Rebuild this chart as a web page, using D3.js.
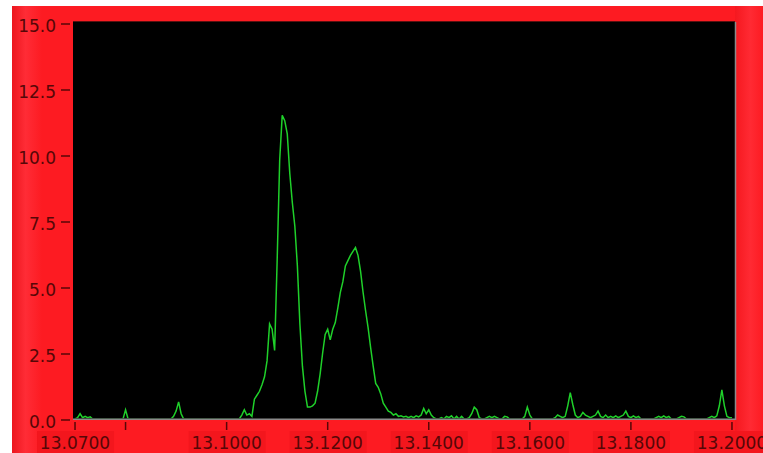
<!DOCTYPE html>
<html>
<meta charset="utf-8">
<head>
	<title>Trace</title>
	<script type="text/javascript" src="https://d3js.org/d3.v7.min.js"></script>
	<style>
		body { margin: 0; background: #ffffff; }
		text { font-family: "DejaVu Sans", Verdana, sans-serif; }
	</style>
</head>
<body>
	<div class="chart-container"></div>
</body>
</html>

<script type="text/javascript">
// signal sampled every 0.0005 starting at 13.0700
var startTime = 13.07;
var stepTime = 0.0005;
var signal = [
	0, 0.05, 0.2, 0.05, 0.1, 0.05, 0.08, 0, 0, 0,
	0, 0, 0, 0, 0, 0, 0, 0, 0, 0,
	0.35, 0, 0, 0, 0, 0, 0, 0, 0, 0,
	0, 0, 0, 0, 0, 0, 0, 0, 0, 0.1,
	0.3, 0.65, 0.2, 0, 0, 0, 0, 0, 0, 0,
	0, 0, 0, 0, 0, 0, 0, 0, 0, 0,
	0, 0, 0, 0, 0, 0, 0.15, 0.35, 0.15, 0.2,
	0.1, 0.75, 0.9, 1.05, 1.3, 1.6, 2.2, 3.6, 3.4, 2.6,
	6.0, 9.8, 11.5, 11.3, 10.8, 9.3, 8.2, 7.3, 5.8, 3.6,
	2.0, 1.05, 0.45, 0.45, 0.5, 0.6, 1.05, 1.7, 2.5, 3.2,
	3.4, 3.0, 3.4, 3.65, 4.2, 4.8, 5.2, 5.8, 6.0, 6.2,
	6.35, 6.5, 6.2, 5.6, 4.8, 4.1, 3.45, 2.7, 2.0, 1.35,
	1.2, 0.95, 0.6, 0.45, 0.3, 0.25, 0.15, 0.2, 0.1, 0.12,
	0.08, 0.1, 0.05, 0.1, 0.05, 0.12, 0.08, 0.15, 0.4, 0.2,
	0.35, 0.15, 0.05, 0, 0, 0.05, 0, 0.1, 0.05, 0.12,
	0, 0.1, 0, 0.1, 0, 0, 0.05, 0.2, 0.45, 0.35,
	0.05, 0, 0, 0.05, 0.1, 0.05, 0.1, 0.05, 0, 0,
	0.1, 0.08, 0, 0, 0, 0, 0, 0, 0.1, 0.45,
	0.15, 0, 0, 0, 0, 0, 0, 0, 0, 0,
	0.05, 0.15, 0.1, 0.05, 0.1, 0.5, 1.0, 0.55, 0.15, 0.05,
	0.1, 0.25, 0.15, 0.1, 0.05, 0.1, 0.15, 0.3, 0.1, 0.05,
	0.15, 0.05, 0.1, 0.05, 0.12, 0.05, 0.1, 0.15, 0.3, 0.1,
	0.05, 0.12, 0.05, 0.1, 0, 0, 0, 0, 0, 0,
	0.05, 0.1, 0.05, 0.12, 0.05, 0.1, 0, 0, 0, 0.05,
	0.1, 0.08, 0, 0, 0, 0, 0, 0, 0, 0,
	0, 0.05, 0.1, 0.05, 0.12, 0.5, 1.1, 0.5, 0.1, 0.05,
	0.05
];
var xTicks = [13.07, 13.08, 13.10, 13.12, 13.14, 13.16, 13.18, 13.20];
var xLabelled = [13.07, 13.10, 13.12, 13.14, 13.16, 13.18, 13.20];
var yTicks = [0, 2.5, 5, 7.5, 10, 12.5, 15];

var width = 763, height = 453;
var plot = {left: 73, right: 735, top: 22, bottom: 420};
var textColor = "#560707";

var svg = d3.select(".chart-container").append("svg")
	.attr("width", width)
	.attr("height", height);

var defs = svg.append("defs");

var sideGrad = defs.append("linearGradient").attr("id", "leftEdge");
sideGrad.append("stop").attr("offset", "0%").attr("stop-color", "#ec161e");
sideGrad.append("stop").attr("offset", "45%").attr("stop-color", "#ff2c36");
sideGrad.append("stop").attr("offset", "100%").attr("stop-color", "#fd1b22");

var rightGrad = defs.append("linearGradient").attr("id", "rightEdge");
rightGrad.append("stop").attr("offset", "0%").attr("stop-color", "#f5181f");
rightGrad.append("stop").attr("offset", "55%").attr("stop-color", "#ff2a33");
rightGrad.append("stop").attr("offset", "100%").attr("stop-color", "#fd1b22");

defs.append("clipPath").attr("id", "plotClip")
	.append("rect")
	.attr("x", plot.left)
	.attr("y", plot.top)
	.attr("width", plot.right - plot.left)
	.attr("height", plot.bottom - plot.top - 1.8);

// red panel
svg.append("rect")
	.attr("x", 12).attr("y", 6)
	.attr("width", width - 12).attr("height", height - 6)
	.attr("fill", "#fd1b22");
svg.append("rect")
	.attr("x", 12).attr("y", 6)
	.attr("width", 30).attr("height", height - 6)
	.attr("fill", "url(#leftEdge)");
svg.append("rect")
	.attr("x", plot.right).attr("y", 6)
	.attr("width", width - plot.right).attr("height", height - 6)
	.attr("fill", "url(#rightEdge)");

var x = d3.scaleLinear()
	.domain([13.0696, 13.2006])
	.range([plot.left, plot.right]);

var y = d3.scaleLinear()
	.domain([0, 15])
	.range([419, 23]);

// plot area
svg.append("rect")
	.attr("x", plot.left).attr("y", plot.top)
	.attr("width", plot.right - plot.left)
	.attr("height", plot.bottom - plot.top)
	.attr("fill", "#000000");

var line = d3.line()
	.x(function(d, i) { return x(startTime + i * stepTime); })
	.y(function(d) { return y(d); });

svg.append("path")
	.datum(signal)
	.attr("clip-path", "url(#plotClip)")
	.attr("fill", "none")
	.attr("stroke", "#1fd02a")
	.attr("stroke-width", 1.5)
	.attr("d", line);

// frame lines of the plot
svg.append("line")
	.attr("x1", plot.left).attr("x2", plot.right)
	.attr("y1", 419.3).attr("y2", 419.3)
	.attr("stroke", "#8a8a8a").attr("stroke-width", 1.5);
svg.append("line")
	.attr("x1", plot.right + 0.5).attr("x2", plot.right + 0.5)
	.attr("y1", plot.top).attr("y2", plot.bottom)
	.attr("stroke", "#8a8a8a").attr("stroke-width", 1.5);
svg.append("line")
	.attr("x1", plot.left).attr("x2", plot.right)
	.attr("y1", plot.top - 0.5).attr("y2", plot.top - 0.5)
	.attr("stroke", "#5a1010").attr("stroke-width", 1);

// y axis
var yAxis = svg.append("g").attr("class", "y-axis");
yAxis.selectAll("line")
	.data(yTicks)
	.enter().append("line")
	.attr("x1", 61).attr("x2", 70)
	.attr("y1", function(d) { return y(d) + 1; })
	.attr("y2", function(d) { return y(d) + 1; })
	.attr("stroke", textColor)
	.attr("stroke-width", 1.5);
yAxis.selectAll("text")
	.data(yTicks)
	.enter().append("text")
	.attr("x", 56)
	.attr("y", function(d) { return y(d) + 8.5; })
	.attr("text-anchor", "end")
	.attr("font-size", "17px")
	.attr("fill", textColor)
	.text(function(d) { return d3.format(".1f")(d); });

// x axis
var xAxis = svg.append("g").attr("class", "x-axis");
xAxis.selectAll("rect")
	.data(xLabelled)
	.enter().append("rect")
	.attr("x", function(d) { return x(d) - 38; })
	.attr("y", 431)
	.attr("width", 77)
	.attr("height", 22)
	.attr("fill", "#f3161d");
xAxis.selectAll("line")
	.data(xTicks)
	.enter().append("line")
	.attr("x1", function(d) { return x(d); })
	.attr("x2", function(d) { return x(d); })
	.attr("y1", 422).attr("y2", 430)
	.attr("stroke", textColor)
	.attr("stroke-width", 1.5);
xAxis.selectAll("text")
	.data(xLabelled)
	.enter().append("text")
	.attr("x", function(d) { return x(d); })
	.attr("y", 449)
	.attr("text-anchor", "middle")
	.attr("font-size", "17px")
	.attr("fill", textColor)
	.text(function(d) { return d3.format(".4f")(d); });
</script>
